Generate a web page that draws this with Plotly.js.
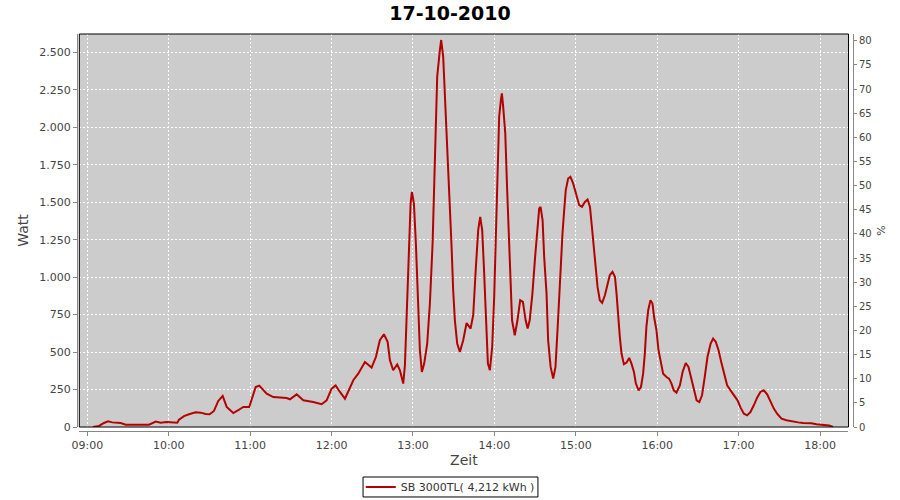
<!DOCTYPE html>
<html>
<head>
<meta charset="utf-8">
<script src="https://cdn.plot.ly/plotly-3.0.1.min.js"></script>
<style>html,body{margin:0;padding:0;background:#fff;}#chart{width:900px;height:500px;}</style>
</head>
<body>
<div id="chart"></div>
<script>
const day = '2010-10-17';
const times = [
'09:04:12','09:08:36','09:12:18','09:15:15','09:18:25','09:24:36','09:28:18','09:36:50','09:45:30','09:50:24',
'09:54:05','09:58:12','10:02:37','10:06:18','10:07:33','10:11:15','10:14:55','10:19:51','10:23:32','10:27:13',
'10:30:10','10:33:20','10:36:30','10:39:45','10:42:42','10:47:35','10:51:15','10:54:55','10:59:20','11:04:05',
'11:06:43','11:12:10','11:17:02','11:26:54','11:29:20','11:34:16','11:39:08','11:46:30','11:52:41','11:56:22',
'12:00:03','12:03:00','12:06:10','12:09:52','12:16:00','12:19:39','12:24:35','12:29:30','12:32:40','12:35:35',
'12:38:35','12:41:18','12:43:00','12:45:25','12:48:22','12:50:22','12:52:48','12:54:03','12:55:18','12:57:00',
'12:58:15','12:59:12','13:00:40','13:02:08','13:03:50','13:05:05','13:06:33','13:08:15','13:10:28','13:12:27',
'13:14:27','13:16:08','13:17:50','13:19:48','13:20:46','13:22:15','13:24:14','13:25:56','13:27:11','13:28:26',
'13:29:37','13:30:52','13:32:34','13:34:33','13:37:00','13:39:30','13:42:27','13:44:22','13:46:21','13:48:03',
'13:49:31','13:51:00','13:52:15','13:53:43','13:55:12','13:56:40','13:58:22','13:59:50','14:01:05','14:02:20',
'14:03:30','14:04:45','14:05:30','14:06:27','14:08:00','14:09:24','14:10:40','14:12:00','14:13:00','14:15:00',
'14:17:00','14:19:00','14:21:00','14:23:00','14:24:30','14:26:00','14:28:00','14:30:00','14:31:30','14:33:00',
'14:34:00','14:35:30','14:36:40','14:38:25','14:39:35','14:41:25','14:43:20','14:45:00','14:46:30','14:47:40',
'14:49:00','14:50:10','14:51:25','14:52:35','14:54:20','14:56:00','14:58:00','15:00:00','15:02:30','15:04:30',
'15:06:40','15:08:40','15:10:25','15:11:50','15:13:20','15:14:50','15:16:00','15:17:40','15:19:25','15:21:25',
'15:23:00','15:25:00','15:27:00','15:28:50','15:30:00','15:31:10','15:32:25','15:33:40','15:35:25','15:37:25',
'15:39:20','15:41:00','15:42:50','15:44:15','15:46:15','15:48:00','15:49:35','15:50:50','15:52:00','15:53:20',
'15:55:00','15:56:30','15:57:40','15:59:25','16:00:55','16:02:25','16:04:20','16:06:50','16:08:40','16:10:30',
'16:12:10','16:14:10','16:16:40','16:18:40','16:21:00','16:23:00','16:25:15','16:27:00','16:29:00','16:31:00',
'16:33:00','16:35:00','16:37:00','16:39:20','16:41:10','16:43:10','16:45:10','16:47:25','16:49:20','16:51:30',
'16:54:00','16:56:40','16:59:10','17:01:25','17:03:50','17:06:15','17:08:40','17:11:10','17:13:35','17:16:00',
'17:18:30','17:21:00','17:23:25','17:25:55','17:28:20','17:31:35','17:35:15','17:40:00','17:43:50','17:47:30',
'17:53:35','17:57:20','18:02:10','18:06:35','18:09:35'
];
const watts = [
0,7,27,38,31,27,16,14,16,36,
29,33,29,29,49,73,85,98,96,87,
85,107,174,207,134,93,112,134,134,267,
276,223,200,194,185,218,178,167,152,178,
256,278,234,189,312,356,434,397,467,579,
619,568,445,379,417,379,290,412,734,1135,
1492,1569,1492,1225,868,512,367,423,557,824,
1225,1759,2337,2515,2582,2471,2093,1714,1492,1202,
913,712,557,501,579,694,657,746,1068,1313,
1402,1313,1068,757,423,379,534,868,1313,1759,
2070,2181,2226,2137,1959,1581,1291,935,712,612,
712,846,835,712,657,712,890,1135,1313,1458,
1469,1380,1135,890,579,401,323,401,646,880,
1046,1291,1447,1581,1658,1669,1625,1558,1480,1469,
1502,1518,1469,1336,1202,1046,935,846,828,879,
935,1013,1035,1002,890,734,601,490,419,430,
461,423,367,290,245,267,356,490,668,779,
846,824,734,646,512,445,356,334,323,290,
245,230,278,367,427,401,323,256,178,167,
212,334,467,557,590,568,512,423,345,278,
245,212,178,129,89,78,100,145,196,234,
245,218,167,123,89,56,45,40,31,27,
25,18,13,11,0
];
const seriesName = 'SB 3000TL( 4,212 kWh )';
const chartTitle = '17-10-2010';
const xTitle = 'Zeit';
const yTitle = 'Watt';
const y2Title = '%';

const x = times.map(t => day + ' ' + t);
const font = 'DejaVu Sans, Liberation Sans, sans-serif';

const traces = [
  {x: x, y: watts, type: 'scatter', mode: 'lines', name: seriesName,
   line: {color: '#b50000', width: 2}, xaxis: 'x', yaxis: 'y'},
  {x: [], y: [], type: 'scatter', mode: 'lines', yaxis: 'y2', showlegend: false, hoverinfo: 'skip'}
];

const layout = {
  width: 900, height: 500,
  paper_bgcolor: '#ffffff', plot_bgcolor: '#cccccc',
  separators: ',.',
  margin: {l: 77, r: 47, t: 34, b: 69, autoexpand: false},
  font: {family: font, color: '#444444', size: 11},
  title: {text: '<b>' + chartTitle + '</b>', font: {family: font, size: 19, color: '#000000'},
          xref: 'container', x: 0.5, xanchor: 'center', yref: 'container', y: 0.974, yanchor: 'middle'},
  showlegend: true,
  legend: {x: 0.481, xanchor: 'center', y: -0.141, yanchor: 'middle', orientation: 'h',
           borderwidth: 0, bgcolor: 'rgba(0,0,0,0)',
           font: {family: font, size: 11, color: '#333333'}},
  xaxis: {
    type: 'date', domain: [0.003, 0.9942], anchor: 'free', position: 0,
    range: [day + ' 08:54:07', day + ' 18:20:56'],
    tickformat: '%H:%M', dtick: 3600000, tick0: day + ' 09:00',
    showgrid: true, gridcolor: '#ffffff', griddash: '2px,2px', gridwidth: 1,
    showline: true, linecolor: '#888888', linewidth: 1,
    ticks: 'outside', ticklen: 4, tickcolor: '#888888',
    tickfont: {family: font, size: 11, color: '#444444'},
    zeroline: false,
    title: {text: xTitle, font: {family: font, size: 14, color: '#444444'}, standoff: 3}
  },
  yaxis: {
    domain: [0.01, 1], anchor: 'free', position: 0,
    range: [0, 2622], dtick: 250, tick0: 0, tickformat: ',d',
    showgrid: true, gridcolor: '#ffffff', griddash: '2px,2px', gridwidth: 1,
    showline: true, linecolor: '#888888', linewidth: 1,
    ticks: 'outside', ticklen: 4, tickcolor: '#888888',
    tickfont: {family: font, size: 11, color: '#444444'},
    zeroline: false,
    title: {text: yTitle, font: {family: font, size: 14, color: '#444444'}, standoff: 6}
  },
  yaxis2: {
    overlaying: 'y', side: 'right', anchor: 'free', position: 1,
    range: [0, 81.4], dtick: 5, tick0: 0,
    showgrid: false, zeroline: false,
    showline: true, linecolor: '#888888', linewidth: 1,
    ticks: 'outside', ticklen: 3, tickcolor: '#888888',
    tickfont: {family: font, size: 10, color: '#444444'},
    title: {text: y2Title, font: {family: font, size: 11, color: '#444444'}, standoff: 6}
  },
  shapes: [
    {type: 'rect', xref: 'x domain', yref: 'y domain', x0: 0, x1: 1, y0: 0, y1: 1,
     line: {color: '#000000', width: 1}, fillcolor: 'rgba(0,0,0,0)', layer: 'above'},
    {type: 'rect', xref: 'paper', yref: 'paper', x0: 0.3686, x1: 0.594, y0: -0.1662, y1: -0.1159,
     line: {color: '#000000', width: 1}, fillcolor: 'rgba(0,0,0,0)', layer: 'above'}
  ]
};

Plotly.newPlot('chart', traces, layout, {displayModeBar: false, staticPlot: true});
</script>
</body>
</html>
